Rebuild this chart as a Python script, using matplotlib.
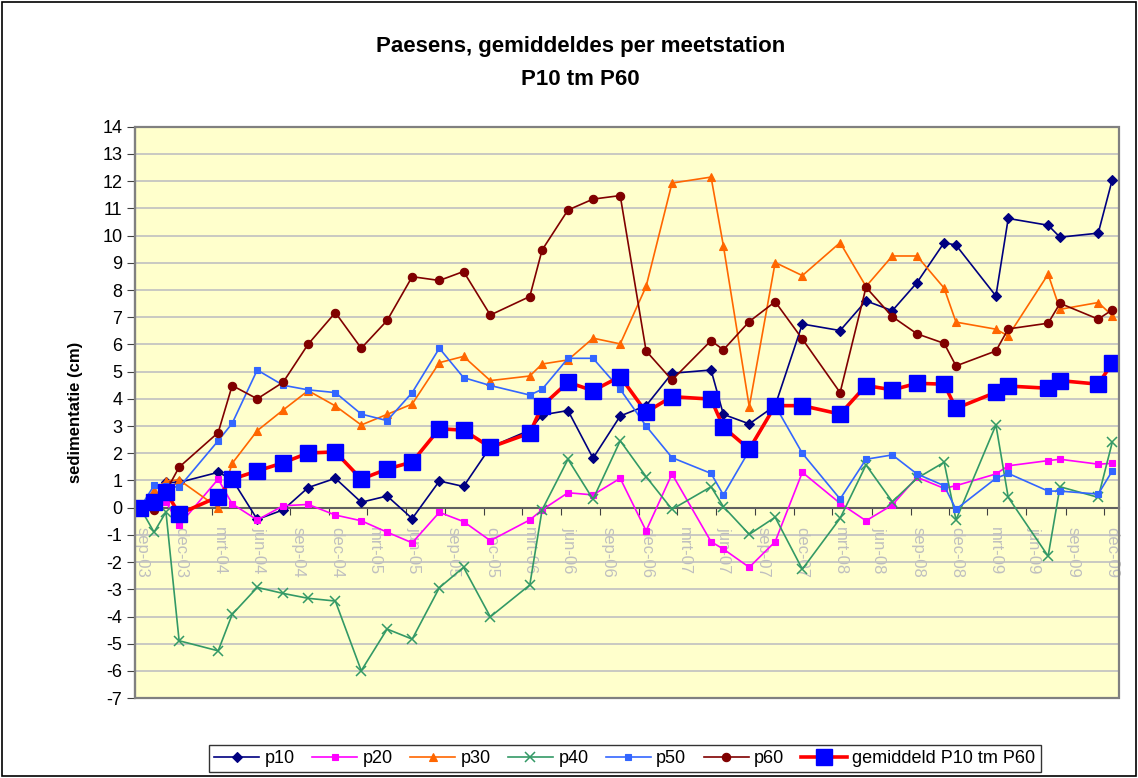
import matplotlib
matplotlib.use("Agg")
import matplotlib.pyplot as plt
import matplotlib.dates as mdates
from matplotlib.patches import Rectangle
from datetime import datetime

plt.rcParams['font.family'] = ['Liberation Sans', 'DejaVu Sans']
plt.rcParams['axes.unicode_minus'] = False

# ── data ──
dates = ["2003-09-13", "2003-10-16", "2003-11-13", "2003-12-14", "2004-03-15",
         "2004-04-17", "2004-06-15", "2004-08-15", "2004-10-13", "2004-12-16",
         "2005-02-15", "2005-04-17", "2005-06-15", "2005-08-18", "2005-10-14",
         "2005-12-16", "2006-03-19", "2006-04-17", "2006-06-17", "2006-08-15",
         "2006-10-18", "2006-12-18", "2007-02-17", "2007-05-20", "2007-06-18",
         "2007-08-18", "2007-10-18", "2007-12-21", "2008-03-19", "2008-05-19",
         "2008-07-20", "2008-09-16", "2008-11-19", "2008-12-17", "2009-03-21",
         "2009-04-19", "2009-07-22", "2009-08-19", "2009-11-17", "2009-12-20"]

p10 = [0, 0.35, 0.93, 0.93, 1.30, 1.04, -0.43, -0.08, 0.74, 1.08,
       0.20, 0.43, -0.40, 0.98, 0.78, 2.23, 2.85, 3.41, 3.57, 1.82,
       3.37, 3.75, 4.94, 5.06, 3.43, 3.08, 3.75, 6.75, 6.51, 7.60,
       7.24, 8.27, 9.74, 9.65, 7.78, 10.63, 10.38, 9.94, 10.09, 12.05]
p20 = [0, 0.47, 0.22, -0.64, 1.05, 0.14, -0.45, 0.07, 0.12, -0.27,
       -0.48, -0.90, -1.29, -0.17, -0.51, -1.21, -0.45, -0.08, 0.55, 0.47,
       1.08, -0.85, 1.24, -1.25, -1.52, -2.19, -1.25, 1.30, 0.16, -0.48,
       0.10, 1.12, 0.71, 0.81, 1.24, 1.54, 1.73, 1.78, 1.60, 1.63]
p30 = [0, 0.65, 0.98, 1.02, 0.0, 1.63, 2.83, 3.59, 4.30, 3.74,
       3.04, 3.43, 3.81, 5.33, 5.56, 4.67, 4.84, 5.28, 5.43, 6.23,
       6.02, 8.13, 11.93, 12.15, 9.63, 3.71, 9.01, 8.53, 9.74, 8.13,
       9.25, 9.25, 8.07, 6.82, 6.56, 6.31, 8.58, 7.29, 7.54, 7.06]
p40 = [0, -0.90, -0.16, -4.89, -5.26, -3.92, -2.93, -3.15, -3.33, -3.43,
       -5.99, -4.46, -4.83, -2.94, -2.19, -4.01, -2.84, -0.08, 1.78, 0.31,
       2.46, 1.14, -0.06, 0.77, 0.04, -0.98, -0.35, -2.26, -0.39, 1.57,
       0.22, 1.08, 1.67, -0.45, 3.04, 0.38, -1.78, 0.77, 0.38, 2.40]
p50 = [0, 0.82, 0.80, 0.75, 2.46, 3.10, 5.06, 4.50, 4.33, 4.23,
       3.44, 3.20, 4.23, 5.86, 4.78, 4.49, 4.14, 4.35, 5.49, 5.49,
       4.35, 3.00, 1.84, 1.26, 0.47, 2.10, 3.75, 2.00, 0.32, 1.78,
       1.94, 1.24, 0.81, -0.06, 1.08, 1.26, 0.61, 0.61, 0.50, 1.35]
p60 = [0, -0.10, 0.60, 1.49, 2.76, 4.49, 4.00, 4.61, 6.01, 7.17,
       5.86, 6.88, 8.49, 8.35, 8.68, 7.08, 7.76, 9.47, 10.94, 11.34,
       11.47, 5.76, 4.69, 6.14, 5.80, 6.84, 7.57, 6.20, 4.23, 8.10,
       7.02, 6.39, 6.04, 5.21, 5.76, 6.57, 6.78, 7.51, 6.93, 7.27]
gemiddeld = [0, 0.22, 0.59, -0.23, 0.40, 1.05, 1.35, 1.65, 2.01, 2.05,
             1.05, 1.42, 1.68, 2.90, 2.85, 2.22, 2.74, 3.74, 4.61, 4.30,
             4.82, 3.51, 4.08, 3.99, 2.96, 2.15, 3.75, 3.75, 3.44, 4.49,
             4.33, 4.57, 4.54, 3.65, 4.24, 4.47, 4.39, 4.67, 4.54, 5.31]

maanden = {3: "mrt", 6: "jun", 9: "sep", 12: "dec"}

x = [datetime.strptime(d, "%Y-%m-%d") for d in dates]

# ── figuur ──
fig = plt.figure(figsize=(11.38, 7.78), dpi=100)
ax = fig.add_axes([0.1186, 0.1026, 0.9837 - 0.1186, 0.8371 - 0.1026])
ax.set_facecolor("#FFFFCC")

series = [
    ("p10", p10, "#000080", "D", 5, 1.2),
    ("p20", p20, "#FF00FF", "s", 4, 1.2),
    ("p30", p30, "#FF6600", "^", 5.5, 1.2),
    ("p40", p40, "#339966", "x", 7, 1.2),
    ("p50", p50, "#3366FF", "s", 4, 1.2),
    ("p60", p60, "#800000", "o", 6, 1.2),
]
handles = []
for naam, vals, kleur, mk, ms, lw in series:
    h, = ax.plot(x, vals, color=kleur, marker=mk, markersize=ms, lw=lw,
                 markeredgewidth=1.1 if mk == "x" else 0.8, zorder=3, label=naam)
    handles.append(h)

h, = ax.plot(x, gemiddeld, color="#FF0000", lw=2.6, marker="s", markersize=11,
             markerfacecolor="#0000FF", markeredgecolor="#0000FF", zorder=5,
             label="gemiddeld P10 tm P60")
handles.append(h)

# assen
ax.set_ylim(-7, 14)
ax.set_yticks(range(-7, 15))
ax.set_xlim(datetime(2003, 9, 1), datetime(2010, 1, 6))
ax.yaxis.grid(True, color="#C0C0C0", lw=1.2)
ax.set_axisbelow(True)

ax.xaxis.set_major_locator(mdates.MonthLocator(bymonth=[3, 6, 9, 12]))
ax.xaxis.set_major_formatter(plt.FuncFormatter(
    lambda v, p: "%s-%s" % (maanden[mdates.num2date(v).month],
                            mdates.num2date(v).strftime("%y"))))
ax.tick_params(axis="x", direction="out", length=5, color="#404040", pad=9,
               labelrotation=270, labelcolor="#BFBFBF", labelsize=12)
ax.tick_params(axis="y", direction="out", length=6, labelsize=13, color="#404040", pad=3)

ax.spines["bottom"].set_position(("data", 0))
ax.spines["bottom"].set_color("#606060")
ax.spines["bottom"].set_linewidth(1.5)
ax.spines["left"].set_color("#404040")
ax.spines["left"].set_linewidth(1.5)
ax.spines["top"].set_visible(False)
ax.spines["right"].set_visible(False)
ax.add_patch(Rectangle((0, 0), 1, 1, transform=ax.transAxes, fill=False,
                       edgecolor="#808080", lw=1.6, clip_on=False, zorder=6))

ax.set_ylabel("sedimentatie (cm)", fontsize=12, fontweight="bold", labelpad=14)

fig.text(0.51, 0.94, "Paesens, gemiddeldes per meetstation", ha="center", va="center",
         fontsize=16, fontweight="bold")
fig.text(0.51, 0.898, "P10 tm P60", ha="center", va="center",
         fontsize=16, fontweight="bold")

leg = fig.legend(handles=handles, loc="center", bbox_to_anchor=(0.549, 0.025), ncol=7,
                 fontsize=13, frameon=True, fancybox=False, edgecolor="black",
                 handlelength=2.5, handletextpad=0.3, columnspacing=0.95,
                 borderpad=0.3)
leg.get_frame().set_linewidth(1.0)

fig.patches.append(Rectangle((0.002, 0.002), 0.996, 0.996, transform=fig.transFigure,
                             fill=False, edgecolor="black", lw=1.2))

# labels net rechts van de tick, zoals in Excel
fig.canvas.draw()
for t in ax.xaxis.get_major_ticks():
    t.label1.set_horizontalalignment("left")

fig.savefig("out.png", dpi=100)
